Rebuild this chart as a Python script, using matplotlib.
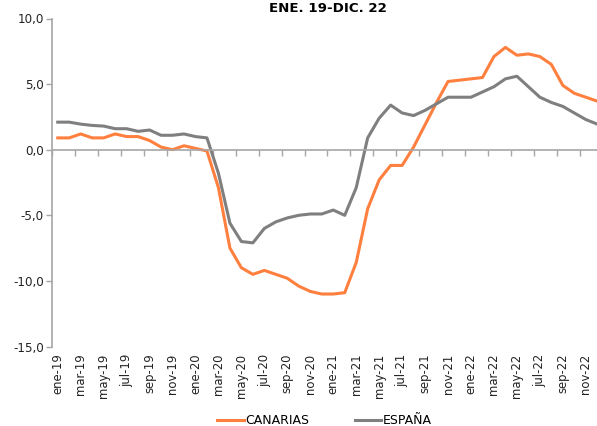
import matplotlib
matplotlib.use("Agg")
import matplotlib.pyplot as plt
from matplotlib.ticker import FuncFormatter

months = ["ene", "feb", "mar", "abr", "may", "jun", "jul", "ago", "sep", "oct", "nov", "dic"]
years = ["19", "20", "21", "22"]
categories = [f"{m}-{y}" for y in years for m in months]

canarias = [0.9, 0.9, 1.2, 0.9, 0.9, 1.2, 1.0, 1.0, 0.7, 0.2, 0.0, 0.3,
            0.1, -0.1, -2.9, -7.5, -9.0, -9.5, -9.2, -9.5, -9.8, -10.4, -10.8, -11.0,
            -11.0, -10.9, -8.6, -4.5, -2.3, -1.2, -1.2, 0.2, 1.9, 3.6, 5.2, 5.3,
            5.4, 5.5, 7.1, 7.8, 7.2, 7.3, 7.1, 6.5, 4.9, 4.3, 4.0, 3.7]
espana = [2.1, 2.1, 1.95, 1.85, 1.8, 1.6, 1.6, 1.4, 1.5, 1.1, 1.1, 1.2,
          1.0, 0.9, -1.8, -5.6, -7.0, -7.1, -6.0, -5.5, -5.2, -5.0, -4.9, -4.9,
          -4.6, -5.0, -2.9, 0.9, 2.4, 3.4, 2.8, 2.6, 3.0, 3.5, 4.0, 4.0,
          4.0, 4.4, 4.8, 5.4, 5.6, 4.8, 4.0, 3.6, 3.3, 2.8, 2.3, 1.95]

title = "ENE. 19-DIC. 22"
yticks = [-15, -10, -5, 0, 5, 10]

orange = "#FF7F3F"
grey = "#7F7F7F"
axis_grey = "#A6A6A6"

fig = plt.figure(figsize=(5.97, 4.26), dpi=100)
ax = fig.add_axes([52 / 597, 1 - 346.5 / 426, 551 / 597, 328 / 426])

x = list(range(len(categories)))
ax.plot(x, canarias, color=orange, lw=2.2, label="CANARIAS", solid_joinstyle="round")
ax.plot(x, espana, color=grey, lw=2.2, label="ESPAÑA", solid_joinstyle="round")

ax.set_xlim(-0.5, len(categories) - 0.5)
ax.set_ylim(-15, 10)
ax.set_yticks(yticks)
ax.yaxis.set_major_formatter(FuncFormatter(lambda v, p: f"{v:.1f}".replace(".", ",")))
ax.tick_params(axis="y", direction="out", length=4, width=1, color=axis_grey,
               labelsize=8.6, pad=2, labelcolor="#222222")

for s in ["top", "right"]:
    ax.spines[s].set_visible(False)
ax.spines["left"].set_color(axis_grey)
ax.spines["left"].set_linewidth(1.2)
ax.spines["bottom"].set_position(("data", 0))
ax.spines["bottom"].set_color(axis_grey)
ax.spines["bottom"].set_linewidth(1.2)

# tick marks on the zero line between category pairs
bounds = [i - 0.5 for i in range(0, len(categories) + 1, 2)]
ax.set_xticks(bounds)
ax.tick_params(axis="x", direction="out", length=4, width=1, color=axis_grey,
               labelbottom=False)

# labels at the bottom
ax2 = ax.twiny()
ax2.set_xlim(ax.get_xlim())
ax2.xaxis.tick_bottom()
ax2.xaxis.set_label_position("bottom")
for s in ax2.spines.values():
    s.set_visible(False)
ax2.set_xticks(x[::2])
ax2.set_xticklabels(categories[::2], rotation=90, fontsize=8.4, color="#222222")
ax2.tick_params(axis="x", length=0, pad=5)

fig.text((52 + 603) / 2 / 597, 1 - 1.5 / 426, title, ha="center", va="top",
         fontsize=9.6, fontweight="bold")

h, l = ax.get_legend_handles_labels()
fig.legend(h, l, loc="center", bbox_to_anchor=(324.5 / 597, 1 - 421 / 426), ncol=2,
           frameon=False, fontsize=9, handlelength=2.1, handletextpad=0.15,
           columnspacing=3.6, borderpad=0, borderaxespad=0)

fig.savefig("out.png", dpi=100)
